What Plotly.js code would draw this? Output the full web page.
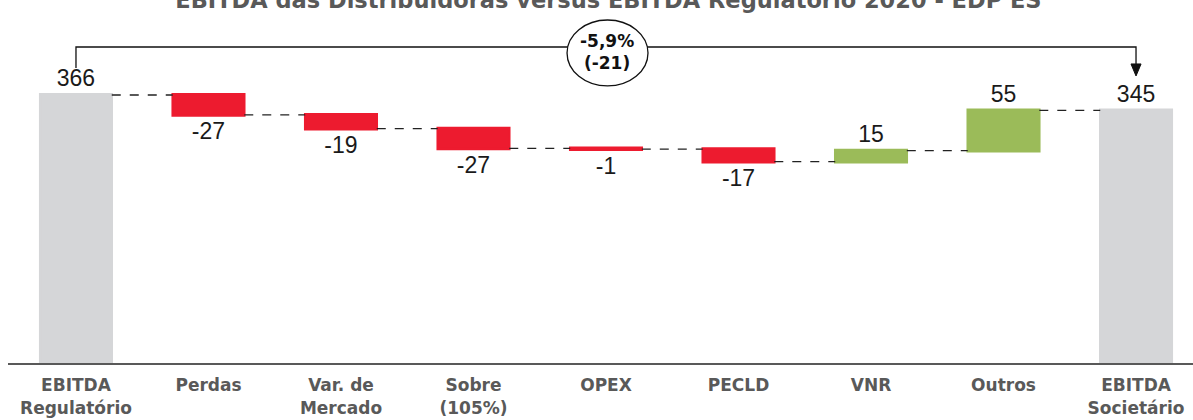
<!DOCTYPE html>
<html>
<head>
<meta charset="utf-8">
<script src="https://cdn.plot.ly/plotly-3.0.1.min.js"></script>
<style>html,body{margin:0;padding:0;background:#fff;}#chart{width:1193px;height:420px;}</style>
</head>
<body>
<div id="chart"></div>
<script>
const categories = ["EBITDA<br>Regulatório", "Perdas", "Var. de<br>Mercado", "Sobre<br>(105%)", "OPEX", "PECLD", "VNR", "Outros", "EBITDA<br>Societário"];
const values = [366, -27, -19, -27, -1, -17, 15, 55, 345];
const measures = ["absolute", "relative", "relative", "relative", "relative", "relative", "relative", "relative", "total"];
const valueLabels = ["366", "-27", "-19", "-27", "-1", "-17", "15", "55", "345"];
const titleText = "EBITDA das Distribuidoras versus EBITDA Regulatório 2020 - EDP ES";
const changeLabel = ["-5,9%", "(-21)"];

const trace = {
  type: "waterfall",
  x: categories.map((c, i) => i),
  y: values,
  measure: measures,
  text: valueLabels,
  textposition: "outside",
  textinfo: "text",
  textfont: {family: "Liberation Sans, Arial, sans-serif", size: 23, color: "#1a1a1a"},
  cliponaxis: false,
  width: 0.54,
  connector: {mode: "between", line: {color: "#222", width: 1.3, dash: "dash"}},
  decreasing: {marker: {color: "#ED1B2F", line: {color: "#ED1B2F", width: 2.5}}},
  increasing: {marker: {color: "#9BBB59", line: {color: "#9BBB59", width: 2.5}}},
  totals: {marker: {color: "#D5D6D8", line: {color: "#D5D6D8", width: 2.5}}},
  hoverinfo: "none"
};

const layout = {
  width: 1193, height: 420,
  margin: {l: 8, r: 0, t: 30, b: 57},
  paper_bgcolor: "#fff", plot_bgcolor: "#fff",
  showlegend: false,
  title: {
    text: "<b>" + titleText + "</b>",
    font: {family: "DejaVu Sans, sans-serif", size: 22.5, color: "#595959"},
    x: 0.51, xanchor: "center", xref: "container",
    y: 1, yanchor: "middle", yref: "container"
  },
  xaxis: {
    range: [-0.513, 8.43],
    tickmode: "array", tickvals: categories.map((c, i) => i), ticktext: categories.map(c => "<b>" + c + "</b>"),
    tickfont: {family: "DejaVu Sans, sans-serif", size: 17, color: "#595959"},
    ticklabelstandoff: 6,
    showgrid: false, zeroline: false,
    showline: true, linecolor: "#595959", linewidth: 2,
    ticks: "", ticklen: 0
  },
  yaxis: {range: [0, 454.8], visible: false, showgrid: false, zeroline: false},
  shapes: [
    {type: "path", xref: "x", yref: "paper",
     path: "M 0,0.886 L 0,0.949 L 8,0.949 L 8,0.895", line: {color: "#111", width: 1.3}},
    {type: "path", xref: "x", yref: "paper",
     path: "M 7.962,0.898 L 8.038,0.898 L 8,0.862 Z", fillcolor: "#111", line: {color: "#111", width: 1}},
    {type: "circle", xref: "x", yref: "paper", x0: 3.706, x1: 4.317, y0: 0.832, y1: 1.030,
     fillcolor: "#fff", line: {color: "#111", width: 1.3}}
  ],
  annotations: [
    {xref: "x", yref: "paper", x: 4.01, y: 0.934, yanchor: "middle", xanchor: "center", showarrow: false,
     text: "<b>" + changeLabel.join("<br>") + "</b>",
     font: {family: "DejaVu Sans, sans-serif", size: 17, color: "#111"}, align: "center"}
  ]
};

Plotly.newPlot("chart", [trace], layout, {displayModeBar: false, staticPlot: true});
</script>
</body>
</html>
